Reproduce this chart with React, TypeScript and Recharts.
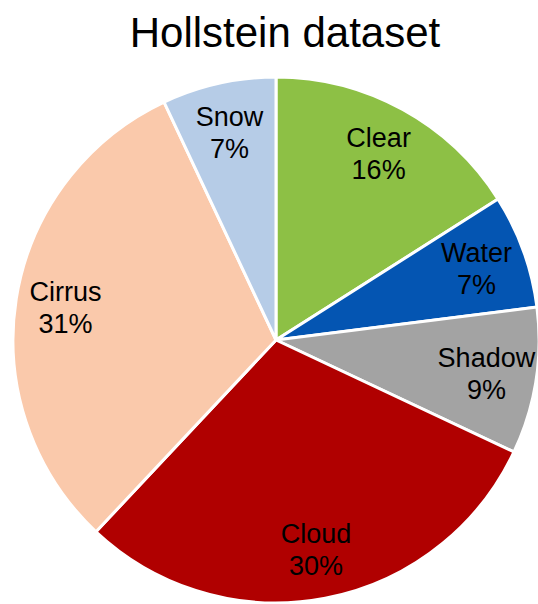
import { PieChart, Pie, Cell } from "recharts";

const classes = ["Clear", "Water", "Shadow", "Cloud", "Cirrus", "Snow"];
const shares = [16, 7, 9, 30, 31, 7];
const colors = ["#8DC045", "#0455B2", "#A3A3A3", "#B00000", "#FAC9AB", "#B6CCE7"];

const data = classes.map((name, i) => ({ name, value: shares[i] }));

const RADIAN = Math.PI / 180;

function renderLabel(props: any) {
  const { cx, cy, midAngle, outerRadius, name, value } = props;
  const r = outerRadius * 0.81;
  const x = cx + r * Math.cos(-midAngle * RADIAN);
  const y = cy + r * Math.sin(-midAngle * RADIAN);
  return (
    <text
      x={x}
      y={y}
      textAnchor="middle"
      fill="#000"
      fontSize={27}
      fontFamily="'Liberation Sans', Arial, sans-serif"
    >
      <tspan x={x} y={y - 6}>
        {name}
      </tspan>
      <tspan x={x} y={y + 26}>
        {value}%
      </tspan>
    </text>
  );
}

export default function App() {
  return (
    <div
      style={{
        position: "absolute",
        left: 0,
        top: 0,
        width: 538,
        height: 604,
        background: "#fff",
      }}
    >
      <div
        style={{
          position: "absolute",
          left: 0,
          top: 12,
          width: 570,
          textAlign: "center",
          fontFamily: "'Liberation Sans', Arial, sans-serif",
          fontSize: 42,
          lineHeight: "42px",
          color: "#000",
        }}
      >
        Hollstein dataset
      </div>
      <PieChart
        width={538}
        height={604}
        margin={{ top: 0, right: 0, bottom: 0, left: 0 }}
      >
        <Pie
          data={data}
          dataKey="value"
          nameKey="name"
          cx={276}
          cy={340}
          outerRadius={263}
          startAngle={90}
          endAngle={-270}
          stroke="#fff"
          strokeWidth={3}
          label={renderLabel}
          labelLine={false}
          isAnimationActive={false}
        >
          {data.map((d, i) => (
            <Cell key={d.name} fill={colors[i]} />
          ))}
        </Pie>
      </PieChart>
    </div>
  );
}
